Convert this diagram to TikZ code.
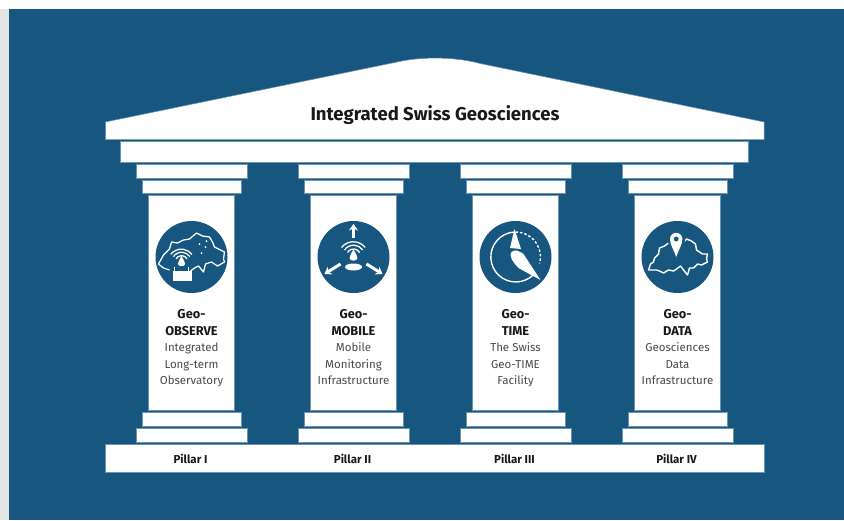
\documentclass[tikz,border=0pt]{standalone}
\usepackage{fontspec}
\usetikzlibrary{arrows.meta}
\setmainfont{Fira Sans}
\definecolor{bluebg}{HTML}{17577F}
\definecolor{edgeblue}{HTML}{6C95B0}
\definecolor{greystrip}{HTML}{E4E4E4}
\definecolor{desc}{HTML}{4A4A4A}
\tikzset{
  x=1pt,y=-1pt,
  block/.style={fill=white,draw=edgeblue,line width=0.5pt},
  title/.style={font=\fontsize{18.5}{20}\selectfont\bfseries,text=black!90,inner sep=0pt},
  head/.style={font=\fontsize{12.8}{14}\selectfont\bfseries,text=black!90,inner sep=0pt},
  pillarlabel/.style={font=\fontsize{11.5}{13}\selectfont\bfseries,text=black!90,inner sep=0pt},
  descr/.style={font=\fontsize{11.5}{13}\selectfont,text=desc,inner sep=0pt},
  disc/.style={fill=bluebg,draw=none},
  iconline/.style={draw=white,line width=1.4pt,fill=none,line join=round},
  iconthin/.style={draw=white,line width=1.25pt,fill=none,line join=round},
  iconarrow/.style={-{Stealth[length=6.5pt,width=9pt]},draw=white,fill=white,line width=3pt},
}
\newcommand{\swissoutline}{(-29,13) -- (-27,7) -- (-24,5) -- (-23,1) -- (-19,-3) -- (-18,-9) -- (-13,-11) -- (-9,-14) -- (-3,-13) -- (1,-16) -- (6,-15) -- (9,-18) -- (14,-16) -- (18,-13) -- (19,-7) -- (22,-5) -- (25,-3) -- (30,-3) -- (29,2) -- (30,5) -- (24,8) -- (20,7) -- (16,11) -- (12,11) -- (10,18) -- (6,13) -- (3,9) -- (-1,12) -- (-4,14) -- (-9,13) -- (-14,16) -- (-18,14) -- (-21,13) -- cycle}
\newcommand{\waves}{%
  \draw[iconthin] (-6,-3.5) arc[start angle=-150,end angle=-30,radius=7];
  \draw[iconthin] (-9,-6) arc[start angle=-146,end angle=-34,radius=11];
  \draw[iconthin] (-12,-8.5) arc[start angle=-142,end angle=-38,radius=15];
}
\newcommand{\bulb}{\fill[white] (0,-7) .. controls (1.5,-3) and (4,-1) .. (4,2) .. controls (4,5.5) and (-4,5.5) .. (-4,2) .. controls (-4,-1) and (-1.5,-3) .. (0,-7) -- cycle;}
\begin{document}
\begin{tikzpicture}
\useasboundingbox (0,0) rectangle (844,520);
\fill[white] (0,0) rectangle (844,520);
\fill[greystrip] (0,9) rectangle (9,520);
\fill[bluebg] (9,9) rectangle (844,520);
% roof
\draw[block] (105.5,122) -- (395,62.5) .. controls (415,57.5) and (450,55.5) .. (480,63.5) -- (764,122) -- (764,139.5) -- (105.5,139.5) -- cycle;
\draw[block] (120.5,141.5) rectangle (748,162);
\draw[block] (105.5,444.5) rectangle (764.5,472);
\node[title] (roofTitle) at (435,115) {Integrated Swiss Geosciences};
% pillars
\foreach \c/\lab/\a/\b/\d/\e/\f/\nm in {
 191.5/Pillar I/Geo-/OBSERVE/Integrated/Long-term/Observatory/one,
 353.5/Pillar II/Geo-/MOBILE/Mobile/Monitoring/Infrastructure/two,
 515.5/Pillar III/Geo-/TIME/The Swiss/Geo-TIME/Facility/three,
 677.5/Pillar IV/Geo-/DATA/Geosciences/Data/Infrastructure/four}{
  \begin{scope}[shift={(\c,0)}]
    \draw[block] (-55.5,164) rectangle (55.5,178);
    \draw[block] (-49.5,180) rectangle (49.5,193.5);
    \draw[block] (-43,195.5) rectangle (43,410);
    \draw[block] (-49.5,412) rectangle (49.5,426);
    \draw[block] (-55.5,428) rectangle (55.5,442);
    \fill[disc] (0,257) circle[radius=36];
    \node[head] (\nm a) at (0,315.5) {\strut\a};
    \node[head] (\nm b) at (0,332.5) {\strut\b};
    \node[descr] (\nm c) at (0,349) {\strut\d};
    \node[descr] (\nm d) at (0,365.5) {\strut\e};
    \node[descr] (\nm e) at (0,382) {\strut\f};
    \node[pillarlabel] (\nm p) at (-1,460.5) {\strut\lab};
  \end{scope}
}
% icon 1
\begin{scope}[shift={(191.5,257)}]
  \draw[iconthin] (-33,7) -- (-28,-2) -- (-22,-8) -- (-20,-15) -- (-14,-14) -- (-8,-17) -- (-2,-18) -- (5,-24) -- (11,-21) -- (18,-20) -- (21,-15) -- (23,-10) -- (29,-7) -- (33,-5) -- (32,2) -- (33,5) -- (26,9) -- (20,5) -- (14,7) -- (12,15) -- (7,9) -- (3,11) -- (-1,14);
  \draw[iconthin] (-33,7) -- (-28,11) -- (-22,13);
  \foreach \p in {(8,-13),(14,-10),(10,-4),(15,-16)} \fill[white] \p circle[radius=1];
  \begin{scope}[shift={(-10,5)},scale=0.9]\waves\bulb\end{scope}
  \fill[white] (-19,14) rectangle (0,24);
  \draw[iconthin,line width=1pt] (-17,14) -- (-17,10) (-3,14) -- (-3,10);
\end{scope}
% icon 2
\begin{scope}[shift={(353.5,257)}]
  \begin{scope}[shift={(0,-1)}]\waves\bulb\end{scope}
  \fill[white] (0,10) ellipse[x radius=8.5,y radius=3.5];
  \draw[iconarrow] (0,-19) -- (0,-33);
  \draw[iconarrow] (-13,7) -- (-29,17);
  \draw[iconarrow] (13,7) -- (29,17);
\end{scope}
% icon 3
\begin{scope}[shift={(515.5,257)}]
  \draw[iconline] (-1,-25) arc[start angle=-93,end angle=-312,radius=25];
  \draw[iconline,dash pattern=on 2.5pt off 2pt] (0,-25) arc[start angle=-90,end angle=15,radius=25];
  \fill[white] (-1,-28) -- (5.5,-8) -- (-5.5,-9) -- cycle;
  \fill[white] (-4,-5) .. controls (-1,-8) and (4,-6) .. (8,-3) -- (25,23) -- (3,11) .. controls (-3,5) and (-7,-2) .. (-4,-5) -- cycle;
\end{scope}
% icon 4
\begin{scope}[shift={(677.5,257)}]
  \draw[iconline] \swissoutline;
  \fill[bluebg] (-1.3,-18) circle[radius=9];
  \fill[white,even odd rule] (-1.3,0) .. controls (-3,-6) and (-7.5,-12) .. (-7.5,-18) arc[start angle=-180,end angle=0,radius=6.2] .. controls (4.9,-12) and (0.4,-6) .. (-1.3,0) -- cycle (-1.3,-18) circle[radius=2.6];
\end{scope}
\end{tikzpicture}
\end{document}
